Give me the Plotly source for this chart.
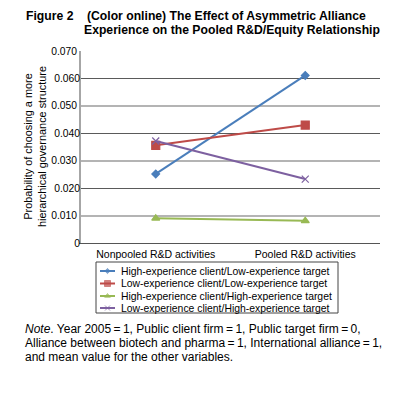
import plotly.graph_objects as go

categories = ["Nonpooled R&D activities", "Pooled R&D activities"]
series_names = [
    "High-experience client/Low-experience target",
    "Low-experience client/Low-experience target",
    "High-experience client/High-experience target",
    "Low-experience client/High-experience target",
]
high_low = [0.0252, 0.0611]
low_low = [0.0356, 0.0430]
high_high = [0.0090, 0.0081]
low_high = [0.0372, 0.0233]
y_ticks = [0, 0.01, 0.02, 0.03, 0.04, 0.05, 0.06, 0.07]
y_tick_text = ["0", "0.010", "0.020", "0.030", "0.040", "0.050", "0.060", "0.070"]

# the page body has an 8px margin; lay out in window pixels and convert
OFF = 8
W, H = 399 - OFF, 395 - OFF
def px(x):
    return (x - OFF) / W
def py(y):
    return 1 - (y - OFF) / H

colors = ["#4A7EBB", "#BE4B48", "#98B954", "#7D60A0"]
symbols = ["diamond", "square", "triangle-up", "x-thin"]
sizes = [6, 8, 7, 7]
values = [high_low, low_low, high_high, low_high]

fig = go.Figure()
for name, vals, c, s, sz in zip(series_names, values, colors, symbols, sizes):
    fig.add_trace(go.Scatter(
        x=categories, y=vals, name=name, mode="lines+markers", showlegend=False,
        line=dict(color=c, width=2),
        marker=dict(symbol=s, size=sz, color=c, line=dict(color=c, width=1.2)),
    ))

# overlay axis carrying the light-gray gridlines at odd ticks
fig.add_trace(go.Scatter(x=categories, y=[None, None], yaxis="y2", showlegend=False, hoverinfo="skip"))

# manual legend on its own small axes (pixel units inside the legend box)
leg_rows = [9, 21.5, 34, 46]
for name, c, s, sz, yy in zip(series_names, colors, symbols, sizes, leg_rows):
    fig.add_trace(go.Scatter(
        x=[4, 11.5, 19], y=[yy, yy, yy], xaxis="x3", yaxis="y3", mode="lines+markers",
        showlegend=False, hoverinfo="skip",
        line=dict(color=c, width=2),
        marker=dict(symbol=s, size=[0, sz - 2, 0], color=c, line=dict(color=c, width=1)),
    ))
    fig.add_annotation(xref="x3", yref="y3", x=23, y=yy, xanchor="left", yanchor="middle",
                       showarrow=False, text=name, font=dict(size=10.4))

font = "Liberation Sans, Arial, sans-serif"
fig.update_layout(
    width=W, height=H,
    margin=dict(l=0, r=0, t=0, b=0),
    paper_bgcolor="white", plot_bgcolor="white",
    font=dict(family=font, size=10, color="black"),
    showlegend=False,
    xaxis=dict(domain=[px(81), px(380)], type="category", range=[-0.5, 1.5], showgrid=False,
               showline=True, linecolor="#555555", linewidth=1, automargin=False,
               ticks="", tickfont=dict(size=10.5), ticklabelstandoff=1),
    yaxis=dict(domain=[py(243), py(51)], range=[0, 0.07], tickvals=y_ticks[0::2],
               ticktext=y_tick_text[0::2], automargin=False,
               showgrid=True, gridcolor="#5a5a5a", gridwidth=1, zeroline=False,
               showline=False, ticks="", tickfont=dict(size=10.3), ticklabelstandoff=0),
    yaxis2=dict(range=[0, 0.07], overlaying="y", side="left", automargin=False,
                tickvals=y_ticks[1::2], ticktext=y_tick_text[1::2],
                showgrid=True, gridcolor="#b4b4b4", gridwidth=2, zeroline=False,
                showline=True, linecolor="#a6a6a6", linewidth=2,
                ticks="", tickfont=dict(size=10.3), ticklabelstandoff=0, layer="below traces"),
    xaxis3=dict(domain=[px(96), px(338)], range=[0, 242], anchor="y3", visible=False, fixedrange=True),
    yaxis3=dict(domain=[py(313), py(262)], range=[51, 0], anchor="x3", visible=False, fixedrange=True),
)

fig.add_shape(type="rect", xref="x3 domain", yref="y3 domain", x0=0, x1=1, y0=0, y1=1,
              line=dict(color="#444444", width=1))

fig.add_annotation(xref="paper", yref="paper", x=px(35), y=py(147), xanchor="center", yanchor="middle",
                   showarrow=False, textangle=-90,
                   text="Probability of choosing a more<br>hierarchical governance structure",
                   font=dict(size=10.9))

fig.add_annotation(xref="paper", yref="paper", x=px(24), y=py(16), xanchor="left", yanchor="middle",
                   showarrow=False, align="left",
                   text="<b>Figure 2&nbsp;&nbsp;&nbsp;&nbsp;(Color online) The Effect of Asymmetric Alliance</b>",
                   font=dict(size=12.2))
fig.add_annotation(xref="paper", yref="paper", x=px(82), y=py(30), xanchor="left", yanchor="middle",
                   showarrow=False, align="left",
                   text="<b>Experience on the Pooled R&D/Equity Relationship</b>",
                   font=dict(size=12.2))

note_lines = [
    "<i>Note</i>. Year 2005\u2009=\u20091, Public client firm\u2009=\u20091, Public target firm\u2009=\u20090,",
    "Alliance between biotech and pharma\u2009=\u20091, International alliance\u2009=\u20091,",
    "and mean value for the other variables.",
]
for i, line in enumerate(note_lines):
    fig.add_annotation(xref="paper", yref="paper", x=px(23), y=py(329 + i * 14),
                       xanchor="left", yanchor="middle", showarrow=False, align="left",
                       text=line, font=dict(size=12))

fig.write_html("out.html")
